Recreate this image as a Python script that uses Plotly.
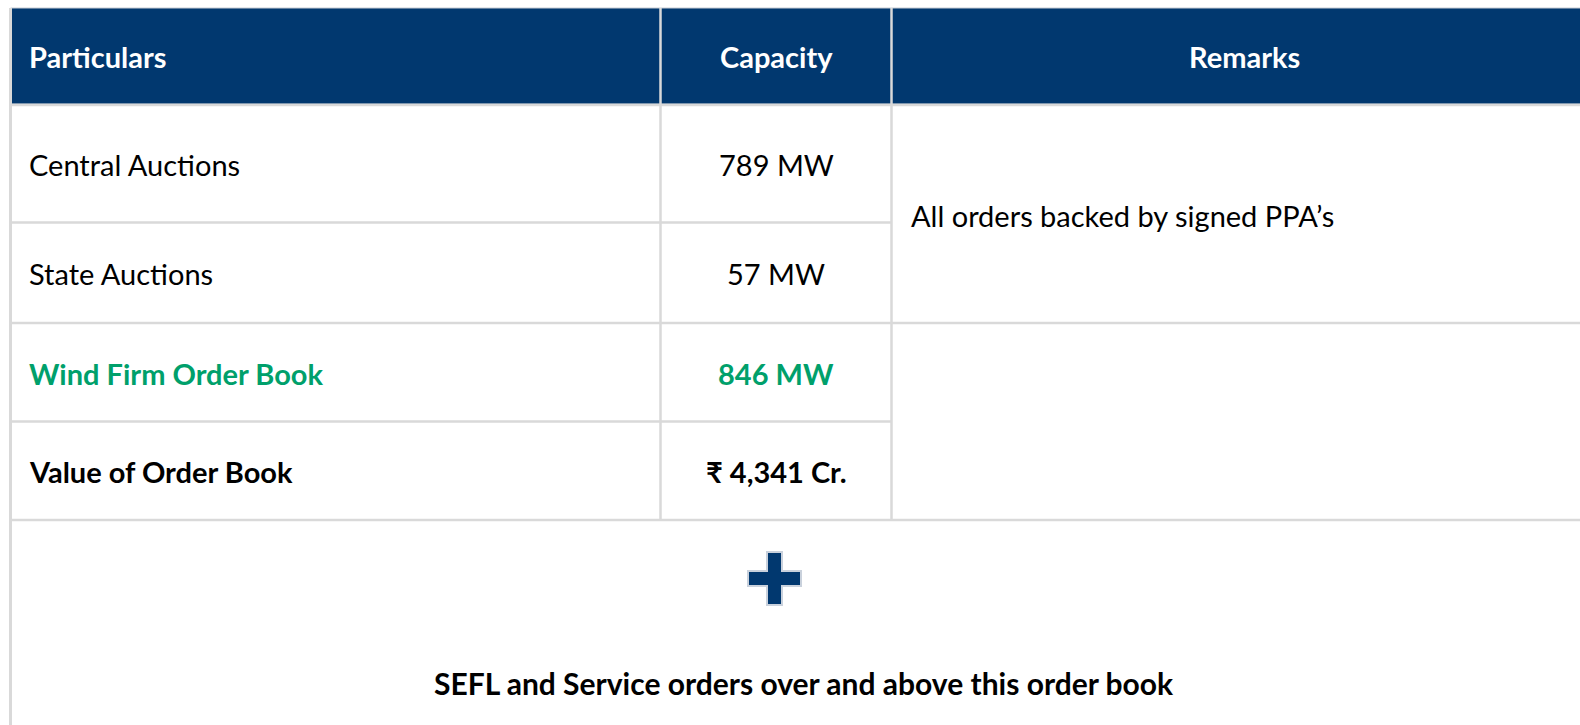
import plotly.graph_objects as go

# ---- data ----
headers = ["Particulars", "Capacity", "Remarks"]
particulars = ["Central Auctions", "State Auctions", "Wind Firm Order Book", "Value of Order Book"]
capacity_mw = [789, 57, 846]
order_value_cr = 4341
capacity = [f"{v} MW" for v in capacity_mw] + [f"₹ {order_value_cr:,} Cr."]
remarks = "All orders backed by signed PPA’s"
footer_note = "SEFL and Service orders over and above this order book"

# ---- layout constants (pixels) ----
W, H = 1580, 725
NAVY = "#01386f"
GRID = "#d9d9d9"
GREEN = "#00a06b"
FONT = "Lato"
FS = 29

col_x = [10.5, 660.5, 891.5, 1597]
row_y = [8, 104, 222.5, 323, 421.5, 520, 740]
row_color = ["#000000", "#000000", GREEN, "#000000"]
row_bold = [False, False, True, True]
PAD = 16.5

fig = go.Figure()
shapes = []
annotations = []

# header background
shapes.append(dict(type="rect", x0=col_x[0], x1=col_x[3], y0=row_y[0], y1=row_y[1],
                   fillcolor=NAVY, line=dict(color="#c7ccd4", width=1), layer="below"))

def hline(y, x0, x1, w=2.5):
    shapes.append(dict(type="line", x0=x0, x1=x1, y0=y, y1=y, line=dict(color=GRID, width=w)))

def vline(x, y0, y1, w=2.5):
    shapes.append(dict(type="line", x0=x, x1=x, y0=y0, y1=y1, line=dict(color=GRID, width=w)))

# grid
hline(row_y[1] + 1, col_x[0], col_x[3])
hline(row_y[2], col_x[0], col_x[2])
hline(row_y[3], col_x[0], col_x[3])
hline(row_y[4], col_x[0], col_x[2])
hline(row_y[5], col_x[0], col_x[3])
vline(col_x[0], row_y[0], H + 5, 3)
vline(col_x[1], row_y[0], row_y[5])
vline(col_x[2], row_y[0], row_y[5])

# header text
hy = (row_y[0] + row_y[1]) / 2
annotations.append(dict(x=col_x[0] + PAD, y=hy, text=f"<b>{headers[0]}</b>", xanchor="left"))
annotations.append(dict(x=(col_x[1] + col_x[2]) / 2, y=hy, text=f"<b>{headers[1]}</b>", xanchor="center"))
annotations.append(dict(x=(col_x[2] + col_x[3]) / 2, y=hy, text=f"<b>{headers[2]}</b>", xanchor="center"))
for a in annotations:
    a.update(font=dict(family=FONT, size=FS, color="white"), yanchor="middle", showarrow=False,
             xref="x", yref="y")

# body rows
for i, (p, c) in enumerate(zip(particulars, capacity)):
    yc = (row_y[i + 1] + row_y[i + 2]) / 2 + 1
    fmt = (lambda s: f"<b>{s}</b>") if row_bold[i] else (lambda s: s)
    f = dict(family=FONT, size=FS, color=row_color[i])
    annotations.append(dict(x=col_x[0] + PAD, y=yc, text=fmt(p), xanchor="left", yanchor="middle",
                            showarrow=False, font=f, xref="x", yref="y"))
    annotations.append(dict(x=(col_x[1] + col_x[2]) / 2, y=yc, text=fmt(c), xanchor="center",
                            yanchor="middle", showarrow=False, font=f, xref="x", yref="y"))

# remarks (merged over first two rows)
annotations.append(dict(x=col_x[2] + PAD + 0.5, y=(row_y[1] + row_y[3]) / 2 + 2, text=remarks,
                        xanchor="left", yanchor="middle", showarrow=False,
                        font=dict(family=FONT, size=FS, color="#000000"), xref="x", yref="y"))

# plus sign
cx, cy = 774.5, 578.5
a, b = 7.5, 26.5
plus_path = (f"M{cx-a},{cy-b} L{cx+a},{cy-b} L{cx+a},{cy-a} L{cx+b},{cy-a} L{cx+b},{cy+a} "
             f"L{cx+a},{cy+a} L{cx+a},{cy+b} L{cx-a},{cy+b} L{cx-a},{cy+a} L{cx-b},{cy+a} "
             f"L{cx-b},{cy-a} L{cx-a},{cy-a} Z")
shapes.append(dict(type="path", path=plus_path, fillcolor=NAVY,
                   line=dict(color="#c9d1dc", width=2)))

# footer note
annotations.append(dict(x=(col_x[0] + col_x[3]) / 2, y=683, text=f"<b>{footer_note}</b>",
                        xanchor="center", yanchor="middle", showarrow=False,
                        font=dict(family=FONT, size=30, color="#000000"), xref="x", yref="y"))

fig.update_layout(
    width=W, height=H, margin=dict(l=0, r=0, t=0, b=0),
    paper_bgcolor="white", plot_bgcolor="white",
    xaxis=dict(range=[0, W], visible=False, fixedrange=True),
    yaxis=dict(range=[H, 0], visible=False, fixedrange=True),
    shapes=shapes, annotations=annotations, showlegend=False,
)
fig.write_html(
    "out.html",
    config={"displayModeBar": False},
    post_script="document.body.style.margin='0';document.body.style.overflow='hidden';",
)
